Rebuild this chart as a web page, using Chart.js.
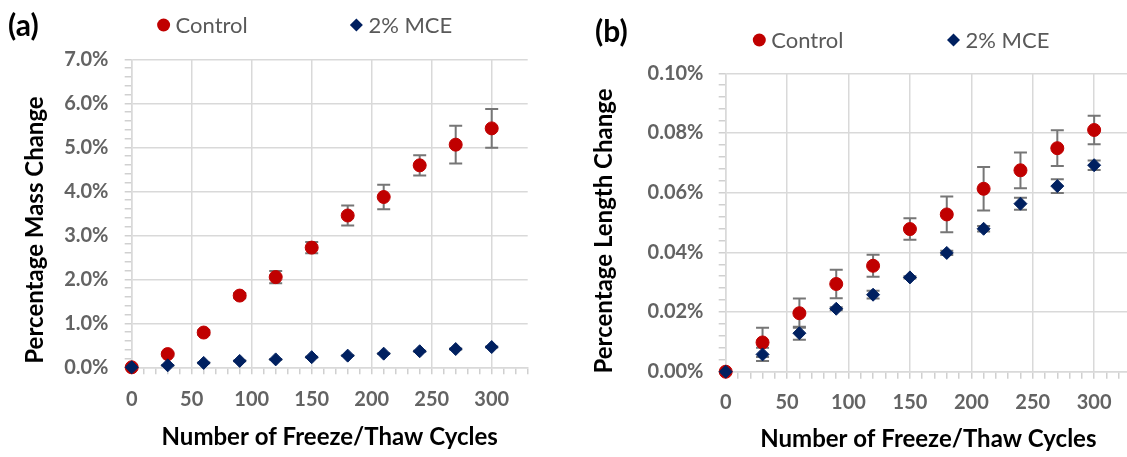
<!DOCTYPE html>
<html>
<head>
<meta charset="utf-8">
<script src="https://cdn.jsdelivr.net/npm/chart.js@4.4.1/dist/chart.umd.min.js"></script>
<style>
  html, body { margin: 0; padding: 0; background: #fff; overflow: hidden; }
  #wrap { position: relative; width: 1127px; height: 457px; overflow: hidden; }
  canvas { position: absolute; top: 0; }
  #massChart { left: 0; }
  #lengthChart { left: 560px; }
  .tag { position: absolute; font-family: Lato, sans-serif; font-weight: 700; font-size: 30px; line-height: 30px; color: #000; }
</style>
</head>
<body>
<div id="wrap">
  <canvas id="massChart" width="560" height="457"></canvas>
  <canvas id="lengthChart" width="600" height="457"></canvas>
  <div class="tag" style="left:8px; top:9px;">(a)</div>
  <div class="tag" style="left:595px; top:15px;">(b)</div>
</div>
<script>
// Freeze/thaw cycle counts at which specimens were measured
const cycles = [0, 30, 60, 90, 120, 150, 180, 210, 240, 270, 300];

// (a) Mass change, %
const massControl = [0, 0.30, 0.79, 1.63, 2.05, 2.72, 3.45, 3.87, 4.59, 5.06, 5.43];
const massControlErr = [0, 0.03, 0.05, 0.06, 0.14, 0.13, 0.23, 0.28, 0.23, 0.43, 0.44];
const massMCE = [0, 0.045, 0.10, 0.145, 0.18, 0.23, 0.265, 0.31, 0.365, 0.415, 0.46];
const massMCEErr = [0, 0.01, 0.01, 0.01, 0.01, 0.01, 0.01, 0.01, 0.01, 0.01, 0.01];

// (b) Length change, %
const lengthControl = [0, 0.0098, 0.0196, 0.0294, 0.0355, 0.0478, 0.0527, 0.0613, 0.0675, 0.0749, 0.0810];
const lengthControlErr = [0, 0.0049, 0.0049, 0.0048, 0.0037, 0.0036, 0.0060, 0.0073, 0.0060, 0.0060, 0.0048];
const lengthMCE = [0, 0.0058, 0.0129, 0.0211, 0.0258, 0.0316, 0.0398, 0.0479, 0.0563, 0.0622, 0.0692];
const lengthMCEErr = [0, 0.0022, 0.0022, 0.0005, 0.0013, 0.0004, 0.0007, 0.0009, 0.0020, 0.0023, 0.0016];

const seriesNames = ['Control', '2% MCE'];
const xTickLabels = ['0', '50', '100', '150', '200', '250', '300'];

const RED = '#c00000';
const NAVY = '#002060';
const FONT = 'Lato, sans-serif';

// Vertical error bars with caps, drawn under the markers
const errorBars = {
  id: 'errorBars',
  beforeDatasetsDraw(chart, args, opts) {
    const { ctx } = chart;
    const xs = chart.scales.x, ys = chart.scales.y;
    ctx.save();
    ctx.strokeStyle = opts.color;
    ctx.lineWidth = opts.width;
    chart.data.datasets.forEach(ds => {
      if (!ds.errors) return;
      ds.data.forEach((p, i) => {
        const e = ds.errors[i];
        if (!e) return;
        const px = xs.getPixelForValue(p.x);
        const top = ys.getPixelForValue(p.y + e);
        const bot = ys.getPixelForValue(p.y - e);
        ctx.beginPath();
        ctx.moveTo(px, top); ctx.lineTo(px, bot);
        ctx.moveTo(px - opts.cap, top); ctx.lineTo(px + opts.cap, top);
        ctx.moveTo(px - opts.cap, bot); ctx.lineTo(px + opts.cap, bot);
        ctx.stroke();
      });
    });
    ctx.restore();
  }
};

function drawMarker(ctx, style, x, y, r, color) {
  ctx.beginPath();
  if (style === 'rectRot') {
    ctx.moveTo(x - r, y); ctx.lineTo(x, y - r); ctx.lineTo(x + r, y); ctx.lineTo(x, y + r);
    ctx.closePath();
  } else {
    ctx.arc(x, y, r, 0, Math.PI * 2);
  }
  ctx.fillStyle = color;
  ctx.fill();
}

// Series key placed above the plot
const seriesKey = {
  id: 'seriesKey',
  afterDraw(chart, args, opts) {
    const { ctx } = chart;
    ctx.save();
    ctx.font = '400 22px ' + FONT;
    ctx.textBaseline = 'middle';
    chart.data.datasets.forEach((ds, i) => {
      const x = opts.xs[i];
      drawMarker(ctx, ds.pointStyle, x, opts.y, ds.pointRadius, ds.backgroundColor);
      ctx.fillStyle = '#595959';
      ctx.fillText(ds.label, x + opts.gap, opts.y + 1);
    });
    ctx.restore();
  }
};

// Rotated value-axis title
const yTitle = {
  id: 'yTitle',
  afterDraw(chart, args, opts) {
    const { ctx } = chart;
    ctx.save();
    ctx.translate(opts.x, opts.y);
    ctx.rotate(-Math.PI / 2);
    ctx.font = '700 24px ' + FONT;
    ctx.fillStyle = '#000';
    ctx.textAlign = 'center';
    ctx.textBaseline = 'middle';
    ctx.fillText(opts.text, 0, 0);
    ctx.restore();
  }
};

function points(vals) {
  return cycles.map((c, i) => ({ x: c, y: vals[i] }));
}

function isMultiple(v, step) {
  const q = v / step;
  return Math.abs(q - Math.round(q)) < 1e-6;
}

function buildChart(id, cfg) {
  const datasets = [
    {
      label: seriesNames[0], data: points(cfg.control), errors: cfg.controlErr,
      pointStyle: 'circle', pointRadius: 6.5, backgroundColor: RED, borderColor: RED,
      borderWidth: 1, showLine: false, order: 1, clip: false
    },
    {
      label: seriesNames[1], data: points(cfg.mce), errors: cfg.mceErr,
      pointStyle: 'rectRot', pointRadius: 6.5, backgroundColor: NAVY, borderColor: NAVY,
      borderWidth: 1, showLine: false, order: 0, clip: false
    }
  ];
  const tickFont = { family: FONT, size: 20, weight: '700' };
  return new Chart(document.getElementById(id), {
    type: 'scatter',
    data: { datasets },
    plugins: [errorBars, seriesKey, yTitle],
    options: {
      responsive: false,
      animation: false,
      events: [],
      layout: { padding: { top: cfg.top, right: cfg.right, left: 0, bottom: 0 } },
      plugins: {
        legend: { display: false },
        tooltip: { enabled: false },
        errorBars: { color: '#767676', width: 2, cap: 6.5 },
        seriesKey: cfg.key,
        yTitle: cfg.yTitle
      },
      scales: {
        x: {
          type: 'linear', min: 0, max: 330,
          afterFit: s => { s.height = cfg.xHeight; },
          border: { color: '#d9d9d9', width: 1.5 },
          grid: {
            color: c => (c.tick && isMultiple(c.tick.value, 50)) ? '#d9d9d9' : 'rgba(0,0,0,0)',
            lineWidth: 1.5, tickColor: '#d0d0d0', tickWidth: 1.5, tickLength: 7
          },
          ticks: {
            stepSize: 10, autoSkip: false, maxRotation: 0, minRotation: 0,
            padding: cfg.xPad, color: '#636363', font: tickFont,
            callback: v => isMultiple(v, 50) ? xTickLabels[Math.round(v / 50)] : ''
          },
          title: {
            display: true, text: 'Number of Freeze/Thaw Cycles', color: '#000',
            font: { family: FONT, size: 24, weight: '700' },
            padding: { top: 0, bottom: cfg.xTitlePad }
          }
        },
        y: {
          type: 'linear', min: 0, max: cfg.yMax,
          afterFit: s => { s.width = cfg.yWidth; },
          border: { color: '#d9d9d9', width: 1.5 },
          grid: {
            color: c => (c.tick && isMultiple(c.tick.value, cfg.yMajor)) ? '#d9d9d9' : 'rgba(0,0,0,0)',
            lineWidth: 1.5, tickColor: '#d0d0d0', tickWidth: 1.5, tickLength: 7
          },
          ticks: {
            stepSize: cfg.yMinor, autoSkip: false,
            padding: cfg.yPad, color: '#636363', font: tickFont,
            callback: v => isMultiple(v, cfg.yMajor) ? v.toFixed(cfg.decimals) + '%' : ''
          }
        }
      }
    }
  });
}

buildChart('massChart', {
  control: massControl, controlErr: massControlErr, mce: massMCE, mceErr: massMCEErr,
  yMax: 7, yMajor: 1, yMinor: 0.2, decimals: 1,
  top: 59.3, right: 32.3, yWidth: 131.7, xHeight: 89.7,
  xPad: 13.5, yPad: 16.2, xTitlePad: 5,
  key: { y: 25, xs: [163.6, 356.4], gap: 12 },
  yTitle: { text: 'Percentage Mass Change', x: 35, y: 230 }
});

buildChart('lengthChart', {
  control: lengthControl, controlErr: lengthControlErr, mce: lengthMCE, mceErr: lengthMCEErr,
  yMax: 0.10, yMajor: 0.02, yMinor: 0.004, decimals: 2,
  top: 73.3, right: 29, yWidth: 165.7, xHeight: 85.3,
  xPad: 12, yPad: 15.2, xTitlePad: 3,
  key: { y: 40, xs: [199.3, 393.5], gap: 12 },
  yTitle: { text: 'Percentage Length Change', x: 44, y: 231 }
});
</script>
</body>
</html>
